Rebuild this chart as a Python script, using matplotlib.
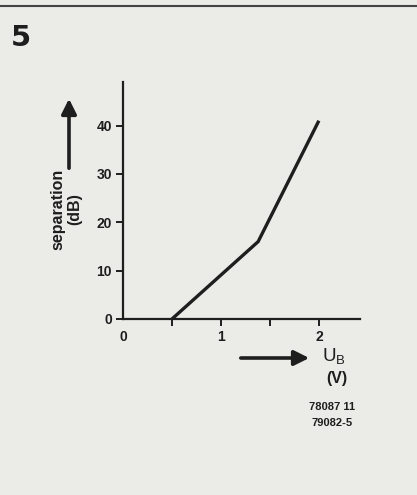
import matplotlib
matplotlib.use("Agg")
import matplotlib.pyplot as plt

# data
ub_volts = [0.5, 1.38, 2.0]
separation_db = [0, 16, 41]
x_ticks = [0, 0.5, 1, 1.5, 2]
x_tick_labels = ['0', '', '1', '', '2']
y_ticks = [0, 10, 20, 30, 40]
y_tick_labels = ['0', '10', '20', '30', '40']

W, H = 417, 495
bg = '#ebebe8'
ink = '#1e1e1e'
fig = plt.figure(figsize=(W / 100, H / 100), dpi=100, facecolor=bg)
plt.rcParams['font.family'] = ['Liberation Sans', 'DejaVu Sans']

ax = fig.add_axes([123 / W, 1 - 319 / H, 237 / W, 237 / H])
ax.set_facecolor('none')
ax.plot(ub_volts, separation_db, color=ink, lw=2.4, solid_capstyle='butt')
ax.set_xlim(0, 2.42)
ax.set_ylim(0, 49)
for s in ['top', 'right']:
    ax.spines[s].set_visible(False)
for s in ['left', 'bottom']:
    ax.spines[s].set_linewidth(1.6)
    ax.spines[s].set_color(ink)
ax.set_xticks(x_ticks)
ax.set_xticklabels(x_tick_labels)
ax.set_yticks(y_ticks)
ax.set_yticklabels(y_tick_labels)
ax.tick_params(axis='both', direction='out', length=5, width=1.4, color=ink,
               labelsize=10, labelcolor=ink, pad=3)
for lab in ax.get_xticklabels() + ax.get_yticklabels():
    lab.set_fontweight('bold')
ax.xaxis.get_major_ticks()[0].tick1line.set_visible(False)

# figure number
fig.text(11 / W, 1 - 38 / H, '5', fontsize=21, fontweight='heavy', color=ink,
         family='DejaVu Sans', va='center', ha='left')

# top rule
fig.add_artist(plt.Line2D([0, 1], [1 - 6 / H, 1 - 6 / H], color='#444444', lw=1.5))

# y arrow and label
fig.add_artist(matplotlib.patches.FancyArrowPatch(
    (69 / W, 1 - 171 / H), (69 / W, 1 - 96 / H), transform=fig.transFigure,
    arrowstyle='-|>,head_length=6,head_width=3', color=ink, lw=2.6, mutation_scale=1.5))
fig.text(66 / W, 1 - 209 / H, 'separation\n(dB)', rotation=90, fontsize=11.5,
         fontweight='bold', color=ink, ha='center', va='center', linespacing=1.15)

# x arrow and label
fig.add_artist(matplotlib.patches.FancyArrowPatch(
    (238 / W, 1 - 358 / H), (312 / W, 1 - 358 / H), transform=fig.transFigure,
    arrowstyle='-|>,head_length=6,head_width=3', color=ink, lw=2.6, mutation_scale=1.5))
fig.text(322 / W, 1 - 357 / H, r'U$_\mathregular{B}$', fontsize=13.5, color=ink,
         ha='left', va='center')
fig.text(337 / W, 1 - 379 / H, '(V)', fontsize=11.5, fontweight='bold', color=ink,
         ha='center', va='center')

fig.text(332 / W, 1 - 407 / H, '78087 11', fontsize=8, fontweight='bold', color=ink,
         ha='center', va='center')
fig.text(332 / W, 1 - 423 / H, '79082-5', fontsize=8, fontweight='bold', color=ink,
         ha='center', va='center')

fig.savefig('out.png', dpi=100, facecolor=bg)
